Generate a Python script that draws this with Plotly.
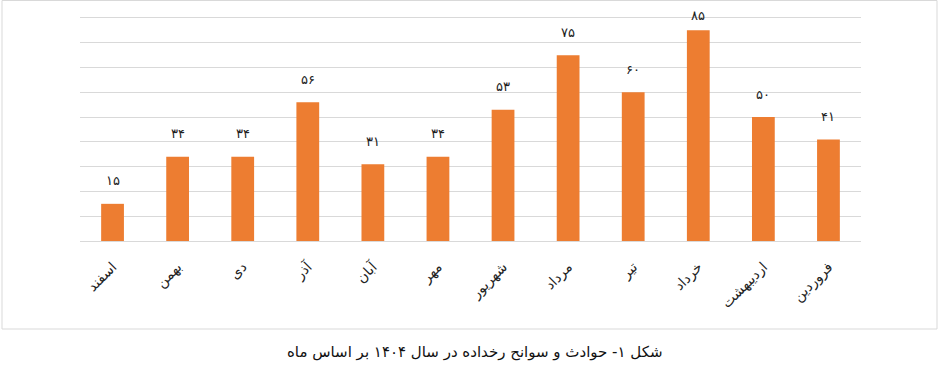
import plotly.graph_objects as go

months = ["اسفند", "بهمن", "دی", "آذر", "آبان", "مهر", "شهریور", "مرداد", "تیر", "خرداد", "اردیبهشت", "فروردین"]
values = [15, 34, 34, 56, 31, 34, 53, 75, 60, 85, 50, 41]
caption = "شکل ۱- حوادث و سوانح رخداده در سال ۱۴۰۴ بر اساس ماه"

fa_digits = str.maketrans("0123456789", "۰۱۲۳۴۵۶۷۸۹")
labels = [str(v).translate(fa_digits) for v in values]

W, H = 942, 369
YMAX = 92
base_px = 241
unit = 223 / 90
T = round(base_px - unit * YMAX)
L, R, B = 80, 81, H - base_px
pw, ph = W - L - R, H - T - B

def px(x):
    return (x - L) / pw

def py(y):
    return (H - B - y) / ph

fig = go.Figure(go.Bar(
    x=months, y=values,
    marker=dict(color="#ED7D31", line=dict(width=0)),
))

label_off = 23 / unit
label_cap = (base_px - 16) / unit
annotations = [dict(x=m, y=min(v + label_off, label_cap), text=t, xref="x", yref="y",
                    showarrow=False, yanchor="middle",
                    font=dict(family="DejaVu Sans", size=13, color="#222"))
               for m, v, t in zip(months, values, labels)]
annotations.append(dict(text=caption, xref="paper", yref="paper", x=px(475), y=py(352),
                        xanchor="center", yanchor="middle", showarrow=False,
                        font=dict(size=15, color="#111", family="DejaVu Sans")))

fig.update_layout(
    width=W, height=H, margin=dict(l=L, r=R, t=T, b=B),
    paper_bgcolor="white", plot_bgcolor="white",
    bargap=0.65, showlegend=False,
    font=dict(family="DejaVu Sans", color="#222"),
    xaxis=dict(tickangle=-45, tickfont=dict(size=14, color="#222"), showgrid=False,
               showline=False, ticks="", ticklabelstandoff=14),
    yaxis=dict(range=[0, YMAX], tickvals=list(range(0, 100, 10)), showticklabels=False,
               gridcolor="#d9d9d9", gridwidth=1, zeroline=True, zerolinecolor="#d9d9d9",
               zerolinewidth=1, showline=False),
    shapes=[dict(type="rect", xref="paper", yref="paper",
                 x0=px(2), x1=px(937), y0=py(329), y1=py(0.5),
                 line=dict(color="#d9d9d9", width=1), fillcolor="rgba(0,0,0,0)", layer="below")],
    annotations=annotations,
)

fig.write_html("out.html")
